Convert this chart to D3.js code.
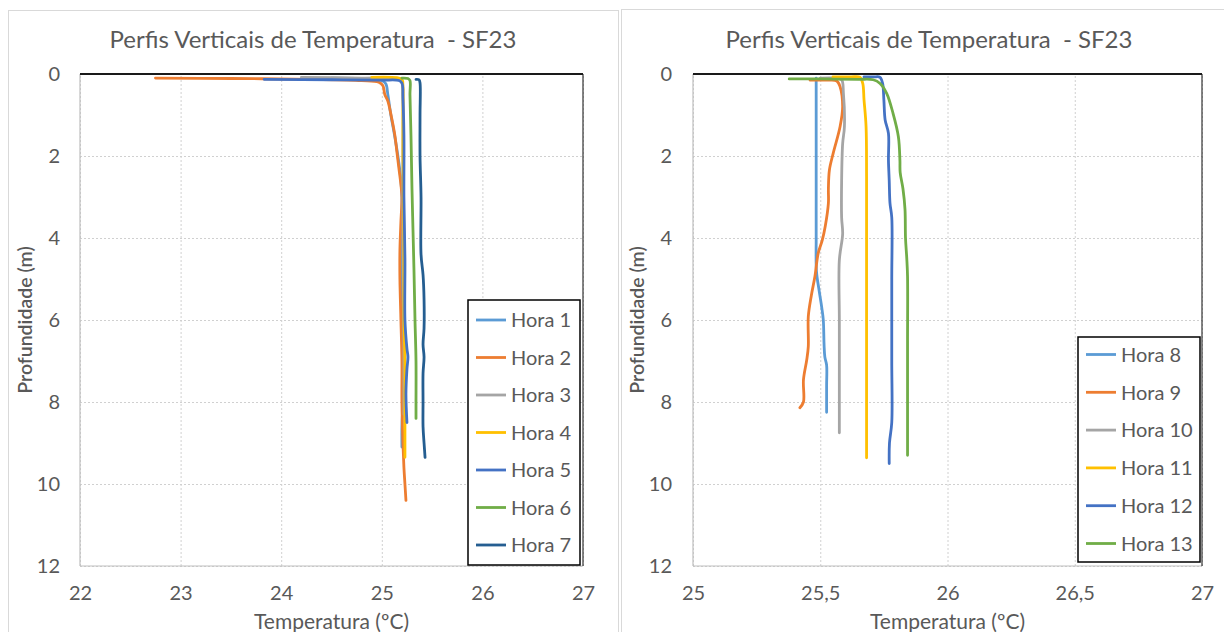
<!DOCTYPE html>
<html>
<head>
<meta charset="utf-8">
<script src="https://cdn.jsdelivr.net/npm/d3@7"></script>
<style>
  html, body { margin: 0; padding: 0; background: #fff; }
  svg { display: block; }
  text { font-family: Lato, "Liberation Sans", sans-serif; fill: #595959; white-space: pre; }
</style>
</head>
<body>
<svg id="chart" width="1224" height="632"></svg>
<script>
// ---------- DATA (temperature ºC, depth m) ----------
const chartTitle = "Perfis Verticais de Temperatura  - SF23";
const xAxisTitle = "Temperatura (ºC)";
const yAxisTitle = "Profundidade (m)";

const leftXTicks = [22, 23, 24, 25, 26, 27];
const leftXLabels = ["22", "23", "24", "25", "26", "27"];
const rightXTicks = [25, 25.5, 26, 26.5, 27];
const rightXLabels = ["25", "25,5", "26", "26,5", "27"];
const yTicks = [0, 2, 4, 6, 8, 10, 12];
const yLabels = ["0", "2", "4", "6", "8", "10", "12"];

const leftNames = ["Hora 1", "Hora 2", "Hora 3", "Hora 4", "Hora 5", "Hora 6", "Hora 7"];
const rightNames = ["Hora 8", "Hora 9", "Hora 10", "Hora 11", "Hora 12", "Hora 13"];

const hora1 = [[24.5,0.1],[24.9,0.12],[25.0,0.16],[25.04,0.24],[25.06,0.5],[25.09,1.0],[25.12,1.4],[25.16,2.0],[25.19,2.6],[25.2,3.0],[25.2,4],[25.2,5],[25.21,6],[25.21,7],[25.21,8],[25.2,8.6],[25.2,9.1]];
const hora2 = [[22.75,0.1],[23.5,0.11],[24.3,0.13],[24.8,0.16],[24.97,0.2],[25.01,0.28],[25.03,0.5],[25.06,0.66],[25.1,1.1],[25.13,1.5],[25.15,1.9],[25.17,2.3],[25.19,2.7],[25.2,3.0],[25.19,3.6],[25.18,4.3],[25.18,5],[25.19,6],[25.2,7],[25.2,8],[25.21,9],[25.22,9.6],[25.23,10.0],[25.24,10.4]];
const hora3 = [[24.2,0.08],[24.8,0.1],[25.15,0.12],[25.2,0.2],[25.21,0.5],[25.21,2],[25.21,4],[25.22,6],[25.22,7.5],[25.22,8.3]];
const hora4 = [[24.9,0.08],[25.15,0.09],[25.2,0.13],[25.21,0.3],[25.21,1],[25.21,2],[25.22,4],[25.22,6],[25.23,7],[25.23,8],[25.23,9],[25.23,9.35]];
const hora5 = [[23.83,0.13],[24.5,0.14],[25.0,0.15],[25.17,0.16],[25.2,0.22],[25.21,0.6],[25.22,1.5],[25.22,3],[25.23,4.5],[25.23,6],[25.25,6.7],[25.26,6.9],[25.25,7.2],[25.24,7.8],[25.25,8.5]];
const hora6 = [[25.2,0.1],[25.26,0.11],[25.28,0.16],[25.28,0.5],[25.29,1.5],[25.3,2.8],[25.31,3.8],[25.32,4.8],[25.33,6],[25.34,7],[25.34,8],[25.34,8.4]];
const hora7 = [[25.34,0.13],[25.37,0.14],[25.38,0.22],[25.38,1],[25.38,2],[25.39,3],[25.39,4.4],[25.41,4.9],[25.42,5.5],[25.42,6.2],[25.41,6.6],[25.42,6.9],[25.41,7.3],[25.41,8],[25.41,8.6],[25.42,9.0],[25.43,9.35]];

const hora8 = [[25.484,0.1],[25.484,1],[25.484,2],[25.484,3],[25.484,4],[25.485,4.8],[25.496,5.3],[25.506,5.7],[25.512,6.0],[25.515,6.6],[25.518,6.9],[25.525,7.1],[25.525,7.6],[25.525,8.25]];
const hora9 = [[25.46,0.15],[25.53,0.15],[25.565,0.17],[25.578,0.31],[25.588,0.8],[25.578,1.28],[25.551,1.93],[25.536,2.34],[25.532,2.8],[25.532,3.15],[25.52,3.7],[25.508,4.05],[25.492,4.37],[25.479,4.94],[25.465,5.4],[25.453,5.92],[25.453,6.65],[25.447,6.97],[25.434,7.46],[25.434,8.0],[25.42,8.14]];
const hora10 = [[25.5,0.1],[25.56,0.1],[25.584,0.14],[25.591,0.47],[25.595,1.28],[25.588,1.7],[25.584,2.59],[25.584,3.5],[25.588,3.9],[25.575,4.54],[25.575,6],[25.575,7.5],[25.575,8.75]];
const hora11 = [[25.55,0.07],[25.62,0.07],[25.656,0.08],[25.667,0.23],[25.672,0.63],[25.68,1.28],[25.682,2.5],[25.682,4],[25.682,6],[25.682,8],[25.682,9.36]];
const hora12 = [[25.672,0.07],[25.71,0.07],[25.735,0.08],[25.745,0.23],[25.75,0.63],[25.755,1.12],[25.768,1.45],[25.768,2.1],[25.771,2.6],[25.774,3.15],[25.781,3.5],[25.781,5],[25.781,7],[25.781,8.5],[25.772,9.0],[25.771,9.5]];
const hora13 = [[25.378,0.12],[25.5,0.12],[25.65,0.13],[25.708,0.14],[25.735,0.23],[25.761,0.47],[25.786,0.96],[25.807,1.53],[25.813,2.1],[25.814,2.4],[25.825,2.8],[25.833,3.3],[25.835,4.0],[25.84,4.5],[25.843,4.94],[25.843,6.5],[25.843,8],[25.843,9.3]];

const leftSeries = [hora1, hora2, hora3, hora4, hora5, hora6, hora7];
const rightSeries = [hora8, hora9, hora10, hora11, hora12, hora13];

const leftColors = ["#5B9BD5", "#ED7D31", "#A5A5A5", "#FFC000", "#4472C4", "#70AD47", "#255E91"];
const rightColors = ["#5B9BD5", "#ED7D31", "#A5A5A5", "#FFC000", "#4472C4", "#70AD47"];

// ---------- DRAW ----------
const svg = d3.select("#chart");

function drawChart(cfg) {
  const g = svg.append("g");
  g.append("rect")
    .attr("x", cfg.frame[0] + 0.5).attr("y", cfg.frame[1] + 0.5)
    .attr("width", cfg.frame[2]).attr("height", cfg.frame[3])
    .attr("fill", "#fff").attr("stroke", "#d9d9d9").attr("stroke-width", 1);

  const x = d3.scaleLinear().domain(cfg.xDomain).range([cfg.plot.left, cfg.plot.right]);
  const y = d3.scaleLinear().domain([0, 12]).range([cfg.plot.top, cfg.plot.bottom]);
  const ph = cfg.plot.bottom - cfg.plot.top;
  const pw = cfg.plot.right - cfg.plot.left;

  const gx = g.append("g").attr("transform", `translate(0,${cfg.plot.bottom})`)
    .call(d3.axisBottom(x).tickValues(cfg.xTicks).tickSize(-ph).tickFormat(""));
  gx.select(".domain").remove();
  gx.selectAll("line").attr("stroke", "#d0d0d0").attr("stroke-dasharray", "2,2");

  const gy = g.append("g").attr("transform", `translate(${cfg.plot.left},0)`)
    .call(d3.axisLeft(y).tickValues(yTicks).tickSize(-pw).tickFormat(""));
  gy.select(".domain").remove();
  gy.selectAll("line").attr("stroke", "#d0d0d0").attr("stroke-dasharray", "2,2");

  g.append("line").attr("x1", cfg.plot.left).attr("x2", cfg.plot.left)
    .attr("y1", cfg.plot.top).attr("y2", cfg.plot.bottom).attr("stroke", "#bfbfbf").attr("stroke-width", 1.2);
  g.append("line").attr("x1", cfg.plot.left).attr("x2", cfg.plot.right)
    .attr("y1", cfg.plot.bottom).attr("y2", cfg.plot.bottom).attr("stroke", "#bfbfbf").attr("stroke-width", 1.2);
  g.append("line").attr("x1", cfg.plot.right).attr("x2", cfg.plot.right)
    .attr("y1", cfg.plot.top).attr("y2", cfg.plot.bottom).attr("stroke", "#333").attr("stroke-width", 1.2);
  g.append("line").attr("x1", cfg.plot.left).attr("x2", cfg.plot.right)
    .attr("y1", cfg.plot.top).attr("y2", cfg.plot.top).attr("stroke", "#1a1a1a").attr("stroke-width", 1.8);

  const ax = g.append("g").attr("transform", `translate(0,${cfg.plot.bottom})`)
    .call(d3.axisBottom(x).tickValues(cfg.xTicks).tickSize(0).tickPadding(20)
      .tickFormat((d, i) => cfg.xLabels[i]));
  ax.select(".domain").remove();
  ax.selectAll("text").attr("font-size", 20).attr("fill", "#595959")
    .style("font-family", "Lato, sans-serif");

  const ay = g.append("g").attr("transform", `translate(${cfg.plot.left},0)`)
    .call(d3.axisLeft(y).tickValues(yTicks).tickSize(0).tickPadding(cfg.yPad)
      .tickFormat((d, i) => yLabels[i]));
  ay.select(".domain").remove();
  ay.selectAll("text").attr("font-size", 20).attr("fill", "#595959")
    .style("font-family", "Lato, sans-serif");

  const line = d3.line().x(d => x(d[0])).y(d => y(d[1])).curve(d3.curveCatmullRom.alpha(0.5));
  const clipId = "clip" + cfg.id;
  g.append("clipPath").attr("id", clipId).append("rect")
    .attr("x", cfg.plot.left).attr("y", cfg.plot.top - 2).attr("width", pw).attr("height", ph + 2);
  const sg = g.append("g").attr("clip-path", `url(#${clipId})`);
  cfg.series.forEach((s, i) => {
    sg.append("path").datum(s).attr("d", line)
      .attr("fill", "none").attr("stroke", cfg.colors[i])
      .attr("stroke-width", 2.8).attr("stroke-linejoin", "round").attr("stroke-linecap", "round");
  });

  g.append("text").attr("x", cfg.titleX).attr("y", 48).attr("text-anchor", "middle")
    .attr("font-size", 24).text(chartTitle);
  g.append("text").attr("x", (cfg.plot.left + cfg.plot.right) / 2).attr("y", 629)
    .attr("text-anchor", "middle").attr("font-size", 21).text(xAxisTitle);
  g.append("text").attr("transform", `translate(${cfg.yTitleX},${(cfg.plot.top + cfg.plot.bottom) / 2}) rotate(-90)`)
    .attr("text-anchor", "middle").attr("dy", "0.35em").attr("font-size", 19.5).attr("font-weight", 600)
    .text(yAxisTitle);

  const L = cfg.legend;
  const lg = g.append("g");
  lg.append("rect").attr("x", L.x).attr("y", L.y).attr("width", L.w).attr("height", L.h)
    .attr("fill", "#fff").attr("stroke", "#000").attr("stroke-width", 1.5);
  cfg.names.forEach((n, i) => {
    const yy = L.first + i * L.step;
    lg.append("line").attr("x1", L.x + 8).attr("x2", L.x + 38).attr("y1", yy).attr("y2", yy)
      .attr("stroke", cfg.colors[i]).attr("stroke-width", 2.8);
    lg.append("text").attr("x", L.x + 43).attr("y", yy).attr("dy", "0.36em")
      .attr("font-size", 20).text(n);
  });
}

drawChart({
  id: "L",
  frame: [8, 10, 610, 640],
  plot: { left: 80, right: 583, top: 74, bottom: 566 },
  xDomain: [22, 27], xTicks: leftXTicks, xLabels: leftXLabels,
  yPad: 20, titleX: 313, yTitleX: 25,
  series: leftSeries, colors: leftColors, names: leftNames,
  legend: { x: 468, y: 300, w: 112, h: 265, first: 320, step: 37.5 }
});

drawChart({
  id: "R",
  frame: [621, 9, 620, 640],
  plot: { left: 693, right: 1202, top: 74, bottom: 566 },
  xDomain: [25, 27], xTicks: rightXTicks, xLabels: rightXLabels,
  yPad: 21, titleX: 929, yTitleX: 637,
  series: rightSeries, colors: rightColors, names: rightNames,
  legend: { x: 1078, y: 337, w: 122, h: 225, first: 354.5, step: 37.8 }
});
</script>
</body>
</html>
